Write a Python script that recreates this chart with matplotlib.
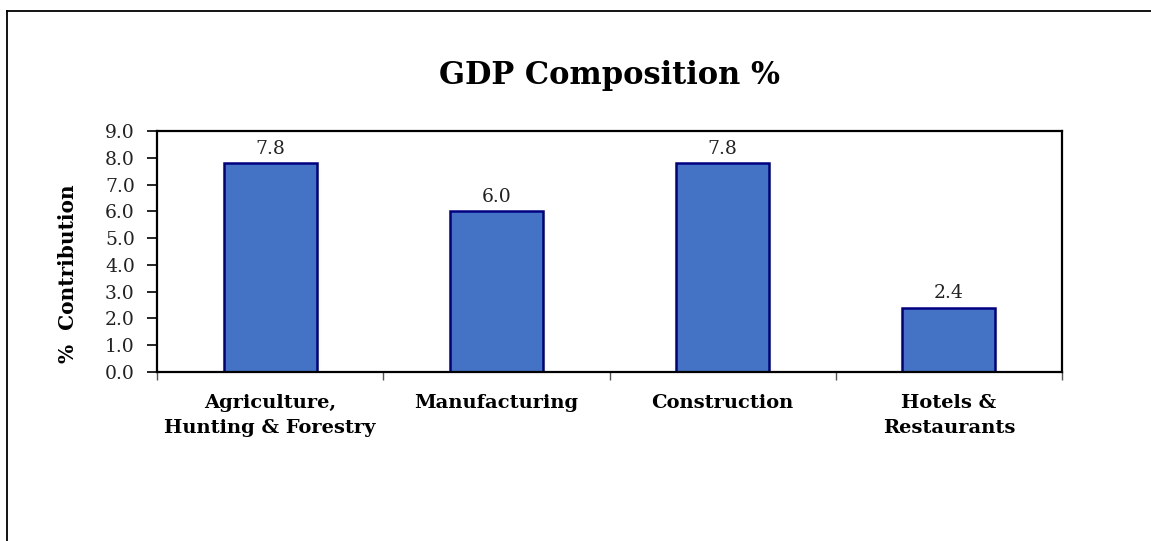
import matplotlib.pyplot as plt
from matplotlib.lines import Line2D

# data
sectors = ['Agriculture,\nHunting & Forestry', 'Manufacturing', 'Construction', 'Hotels &\nRestaurants']
contribution = [7.8, 6.0, 7.8, 2.4]
y_ticks = [0, 1, 2, 3, 4, 5, 6, 7, 8, 9]

plt.rcParams['font.family'] = ['DejaVu Serif']

fig = plt.figure(figsize=(11.51, 5.41), dpi=100)
ax = fig.add_axes([157/1151, 1 - 372/541, (1062 - 157)/1151, (372 - 131)/541])

x = list(range(len(sectors)))
bars = ax.bar(x, contribution, width=0.41, color='#4472C4', edgecolor='#000080', linewidth=1.8)

for xi, v in zip(x, contribution):
    ax.annotate(f'{v:.1f}', (xi, v), xytext=(0, 4), textcoords='offset points',
                ha='center', va='bottom', fontsize=13.5, color='#222222')

ax.set_xlim(-0.5, len(sectors) - 0.5)
ax.set_ylim(0, 9)
ax.set_yticks(y_ticks)
ax.set_yticklabels([f'{t:.1f}' for t in y_ticks], fontsize=13.5, color='#222222')
ax.tick_params(axis='y', direction='out', length=7, width=1.2, pad=9)

# boundary ticks on x axis, labels at category centres
ax.set_xticks([i - 0.5 for i in range(len(sectors) + 1)])
ax.set_xticklabels([])
ax.tick_params(axis='x', which='major', direction='out', length=6, width=1.0, color='#555555')
ax.set_xticks(x, sectors, minor=True)
ax.tick_params(axis='x', which='minor', length=0, pad=16)
for lab in ax.get_xticklabels(minor=True):
    lab.set_fontsize(14)
    lab.set_fontweight('bold')
    lab.set_linespacing(1.5)

for sp in ax.spines.values():
    sp.set_linewidth(1.6)
    sp.set_color('black')

ax.set_ylabel('%  Contribution', fontsize=14.5, fontweight='bold')
ax.yaxis.set_label_coords(-0.087, 0.41)
ax.set_title('GDP Composition %', fontsize=22, fontweight='bold', pad=34)

# chart area border (cropped at right and bottom)
fig.add_artist(Line2D([7/1151, 7/1151], [0, 1 - 11/541], transform=fig.transFigure, color='black', lw=1.3))
fig.add_artist(Line2D([7/1151, 1], [1 - 11/541, 1 - 11/541], transform=fig.transFigure, color='black', lw=1.3))

fig.savefig('out.png', dpi=100)
